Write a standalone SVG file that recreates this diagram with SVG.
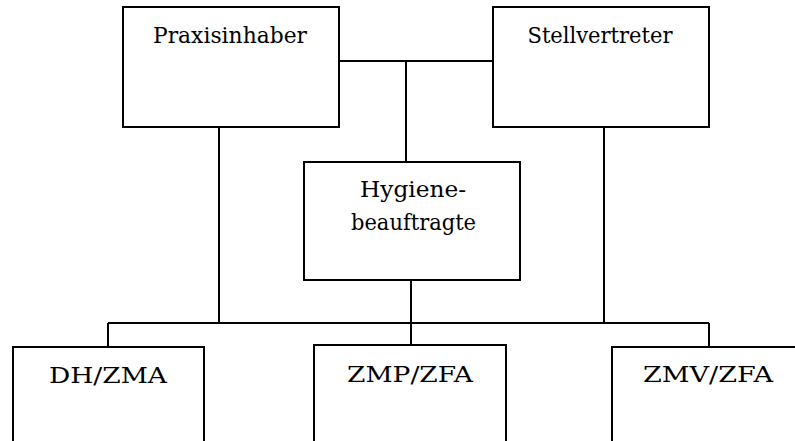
<svg xmlns="http://www.w3.org/2000/svg" width="795" height="441" viewBox="0 0 795 441">
<style>
.box{fill:#fff;stroke:#000;stroke-width:2}
.ln{fill:none;stroke:#000;stroke-width:2}
.t{font-family:'DejaVu Serif','Liberation Serif',serif;font-size:23px;fill:#000;text-anchor:middle}
</style>
<rect width="795" height="441" fill="#fff"/>
<g id="connectors">
<path class="ln" d="M339 61H493M406 61V162"/>
<path class="ln" d="M219 127V323M604 127V323M411 280V345M108 323H709M108 323V347M709 323V347"/>
</g>
<g id="praxisinhaber"><rect class="box" x="123" y="7" width="216" height="120"/><text class="t" x="230" y="43" textLength="154" lengthAdjust="spacingAndGlyphs">Praxisinhaber</text></g>
<g id="stellvertreter"><rect class="box" x="493" y="7" width="216" height="120"/><text class="t" x="600" y="43" textLength="145" lengthAdjust="spacingAndGlyphs">Stellvertreter</text></g>
<g id="hygiene"><rect class="box" x="304" y="162" width="216" height="118"/><text class="t" x="413" y="197" textLength="106" lengthAdjust="spacingAndGlyphs">Hygiene-</text><text class="t" x="413.5" y="230" textLength="125" lengthAdjust="spacingAndGlyphs">beauftragte</text></g>
<g id="dhzma"><path class="box" d="M13 445V347H204V445"/><text class="t" x="108" y="383" textLength="118" lengthAdjust="spacingAndGlyphs">DH/ZMA</text></g>
<g id="zmpzfa"><path class="box" d="M314 445V345H506V445"/><text class="t" x="410" y="382" textLength="126" lengthAdjust="spacingAndGlyphs">ZMP/ZFA</text></g>
<g id="zmvzfa"><path class="box" d="M612 445V347H800"/><text class="t" x="708" y="382" textLength="130" lengthAdjust="spacingAndGlyphs">ZMV/ZFA</text></g>
</svg>
